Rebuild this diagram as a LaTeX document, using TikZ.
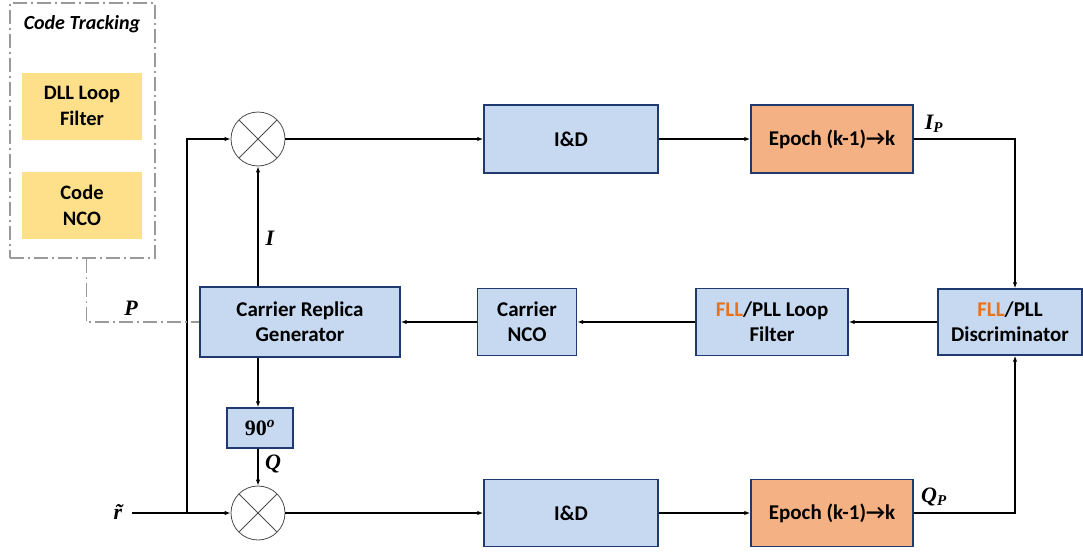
\documentclass[tikz,border=0pt]{standalone}
\usepackage{fontspec}
\setmainfont{Carlito}
\newfontfamily\lblfont{Liberation Serif}
\usetikzlibrary{arrows.meta}
\definecolor{bluefill}{HTML}{C6D9F0}
\definecolor{blueedge}{HTML}{1F3A6E}
\definecolor{orangefill}{HTML}{F4B183}
\definecolor{yellowfill}{HTML}{FFE08A}
\definecolor{fllorange}{HTML}{E8731E}
\definecolor{dashgray}{HTML}{9A9A9A}
\begin{document}
\begin{tikzpicture}[x=1pt,y=-1pt,
  blk/.style={draw=blueedge, line width=1.4pt, fill=bluefill, align=center,
    font=\fontsize{21}{25}\selectfont\bfseries, inner sep=0pt},
  epo/.style={blk, fill=orangefill},
  ylw/.style={fill=yellowfill, align=center, font=\fontsize{20.5}{26}\selectfont\bfseries, inner sep=0pt,
    minimum width=120pt, minimum height=67pt},
  mult/.style={circle, draw=black!70, line width=0.8pt, minimum size=54pt, inner sep=0pt,
    path picture={\draw[black!70, line width=0.8pt] (path picture bounding box.south west)--(path picture bounding box.north east)
      (path picture bounding box.north west)--(path picture bounding box.south east);}},
  arr/.style={line width=1.4pt, -{Latex[length=6pt,width=4.5pt]}},
  dashdot/.style={draw=dashgray, line width=1.2pt, dash pattern=on 14pt off 4pt on 2pt off 4pt},
  lbl/.style={font=\fontsize{22}{24}\selectfont\lblfont\bfseries\itshape, inner sep=0pt}
]
\useasboundingbox (0,0) rectangle (1083,551);

% code tracking
\node[dashdot, minimum width=145pt, minimum height=255pt, inner sep=0pt] (ct) at (82.5,130.5) {};
\node[font=\fontsize{20}{22}\selectfont\bfseries\itshape] (cttitle) at (82,24) {Code Tracking};
\node[ylw] (dll) at (82,106) {DLL Loop\\Filter};
\node[ylw] (cnco) at (82,205) {Code\\NCO};

% multipliers
\node[mult] (m1) at (258,139) {};
\node[mult] (m2) at (258,513) {};

% blocks
\node[blk, minimum width=200pt, minimum height=70pt] (crg) at (300,322) {Carrier Replica\\Generator};
\node[blk, minimum width=66pt, minimum height=40pt, font=\fontsize{22}{24}\selectfont\lblfont\bfseries] (ninety) at (260,428) {90\textsuperscript{\itshape o}};
\node[blk, minimum width=174pt, minimum height=68pt] (id1) at (571,139) {I\&D};
\node[epo, minimum width=162pt, minimum height=68pt] (ep1) at (832,139) {Epoch (k-1)\textrightarrow k};
\node[blk, minimum width=174pt, minimum height=67pt] (id2) at (571,513) {I\&D};
\node[epo, minimum width=162pt, minimum height=67pt] (ep2) at (832,513) {Epoch (k-1)\textrightarrow k};
\node[blk, minimum width=144pt, minimum height=66pt] (disc) at (1010,322) {{\color{fllorange}FLL}/PLL\\Discriminator};
\node[blk, minimum width=152pt, minimum height=67pt] (lf) at (772,322) {{\color{fllorange}FLL}/PLL Loop\\Filter};
\node[blk, minimum width=99pt, minimum height=67pt] (nco) at (527,322) {Carrier\\NCO};

% input
\node[lbl] (rlab) at (118,512) {\~{r}};
\coordinate (rin) at (132,513);
\coordinate (br) at (187,513);

% connectors
\draw[arr] (rin) -- (m2.west);
\draw[arr] (br) |- (m1.west);
\draw[arr] (m1.east) -- (id1.west);
\draw[arr] (m2.east) -- (id2.west);
\draw[arr] (id1.east) -- (ep1.east -| ep1.west);
\draw[arr] (id2.east) -- (ep2.east -| ep2.west);
\draw[arr] (ep1.east) -| ([xshift=5pt]disc.north);
\draw[arr] (ep2.east) -| ([xshift=5pt]disc.south);
\draw[arr] (disc.west) -- (lf.east);
\draw[arr] (lf.west) -- (nco.east);
\draw[arr] (nco.west) -- (crg.east);
\draw[arr] (crg.north -| m1) -- (m1.south);
\draw[arr] (crg.south -| m1) -- (ninety.north -| m1);
\draw[arr] (ninety.south -| m1) -- (m2.north);
\draw[dashdot] ([xshift=4pt]ct.south) |- (crg.west);

% labels
\node[lbl] (ilab) at (270,238) {I};
\node[lbl] (qlab) at (273,464) {Q};
\node[lbl] (plab) at (131,308) {P};
\node[lbl] (iplab) at (934,124) {I\textsubscript{\fontsize{15}{15}\selectfont P}};
\node[lbl] (qplab) at (934,497) {Q\textsubscript{\fontsize{15}{15}\selectfont P}};
\end{tikzpicture}
\end{document}
